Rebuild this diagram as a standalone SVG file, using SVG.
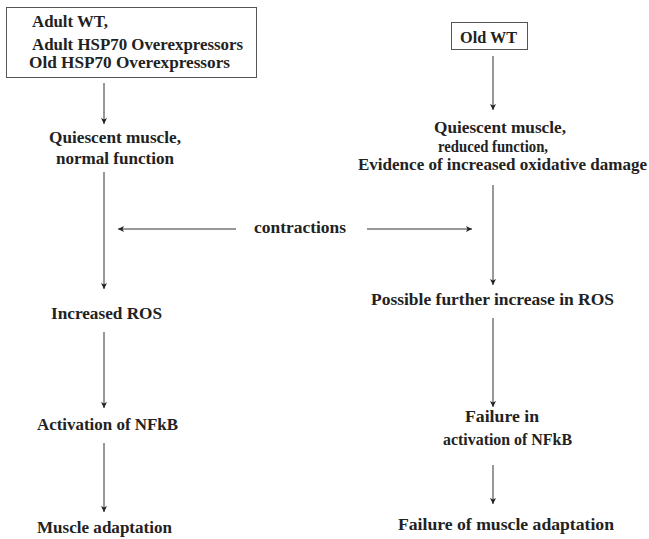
<svg xmlns="http://www.w3.org/2000/svg" width="649" height="539" viewBox="0 0 649 539">
<style>
.t{font-family:'Liberation Serif','DejaVu Serif','Times New Roman',serif;font-weight:700;font-size:16px;fill:#222}
.box{fill:#fff;stroke:#555;stroke-width:1}
.ar{stroke:#333;stroke-width:1;fill:none;marker-end:url(#ah)}
</style>
<defs>
<marker id="ah" markerUnits="userSpaceOnUse" markerWidth="8" markerHeight="8" refX="6" refY="3" orient="auto">
<path d="M0,0 L6,3 L0,6 L1.5,3 Z" fill="#222"/>
</marker>
</defs>
<rect width="649" height="539" fill="#fff"/>
<g id="connectors">
<line class="ar" x1="104" y1="83" x2="104" y2="124"/>
<line class="ar" x1="104" y1="172" x2="104" y2="289"/>
<line class="ar" x1="104" y1="332" x2="104" y2="408"/>
<line class="ar" x1="104" y1="443" x2="104" y2="512"/>
<line class="ar" x1="493" y1="56" x2="493" y2="110"/>
<line class="ar" x1="493" y1="185" x2="493" y2="285"/>
<line class="ar" x1="493" y1="318" x2="493" y2="407"/>
<line class="ar" x1="493" y1="465" x2="493" y2="504"/>
<line class="ar" x1="236" y1="229" x2="118" y2="229"/>
<line class="ar" x1="367" y1="229" x2="472" y2="229"/>
</g>
<g class="t" font-family="Liberation Serif, DejaVu Serif, serif" font-weight="bold" font-size="16">
<g id="n-young">
<rect class="box" x="6.5" y="7.5" width="250" height="70"/>
<text x="32" y="27" textLength="76" lengthAdjust="spacingAndGlyphs">Adult WT,</text>
<text x="32" y="50" textLength="211" lengthAdjust="spacingAndGlyphs">Adult HSP70 Overexpressors</text>
<text x="29" y="68" textLength="201" lengthAdjust="spacingAndGlyphs">Old HSP70 Overexpressors</text>
</g>
<g id="n-oldwt">
<rect class="box" x="451.5" y="22.5" width="76" height="27"/>
<text x="460" y="43" textLength="57" lengthAdjust="spacingAndGlyphs">Old WT</text>
</g>
<g id="n-quiescent-l">
<text x="49" y="143" textLength="132" lengthAdjust="spacingAndGlyphs">Quiescent muscle,</text>
<text x="56" y="164" textLength="118" lengthAdjust="spacingAndGlyphs">normal function</text>
</g>
<g id="n-quiescent-r">
<text x="434" y="133" textLength="132" lengthAdjust="spacingAndGlyphs">Quiescent muscle,</text>
<text x="438" y="152" textLength="110" lengthAdjust="spacingAndGlyphs">reduced function,</text>
<text x="358" y="170" textLength="289" lengthAdjust="spacingAndGlyphs">Evidence of increased oxidative damage</text>
</g>
<g id="n-contractions">
<text x="254" y="233" textLength="92" lengthAdjust="spacingAndGlyphs">contractions</text>
</g>
<g id="n-ros-l">
<text x="51" y="319" textLength="111" lengthAdjust="spacingAndGlyphs">Increased ROS</text>
</g>
<g id="n-ros-r">
<text x="371" y="305" textLength="243" lengthAdjust="spacingAndGlyphs">Possible further increase in ROS</text>
</g>
<g id="n-nfkb-l">
<text x="37" y="430" textLength="141" lengthAdjust="spacingAndGlyphs">Activation of NFkB</text>
</g>
<g id="n-nfkb-r">
<text x="465" y="422" textLength="74" lengthAdjust="spacingAndGlyphs">Failure in</text>
<text x="443" y="445" textLength="129" lengthAdjust="spacingAndGlyphs">activation of NFkB</text>
</g>
<g id="n-adapt-l">
<text x="37" y="533" textLength="135" lengthAdjust="spacingAndGlyphs">Muscle adaptation</text>
</g>
<g id="n-adapt-r">
<text x="398" y="530" textLength="216" lengthAdjust="spacingAndGlyphs">Failure of muscle adaptation</text>
</g>
</g>
</svg>
